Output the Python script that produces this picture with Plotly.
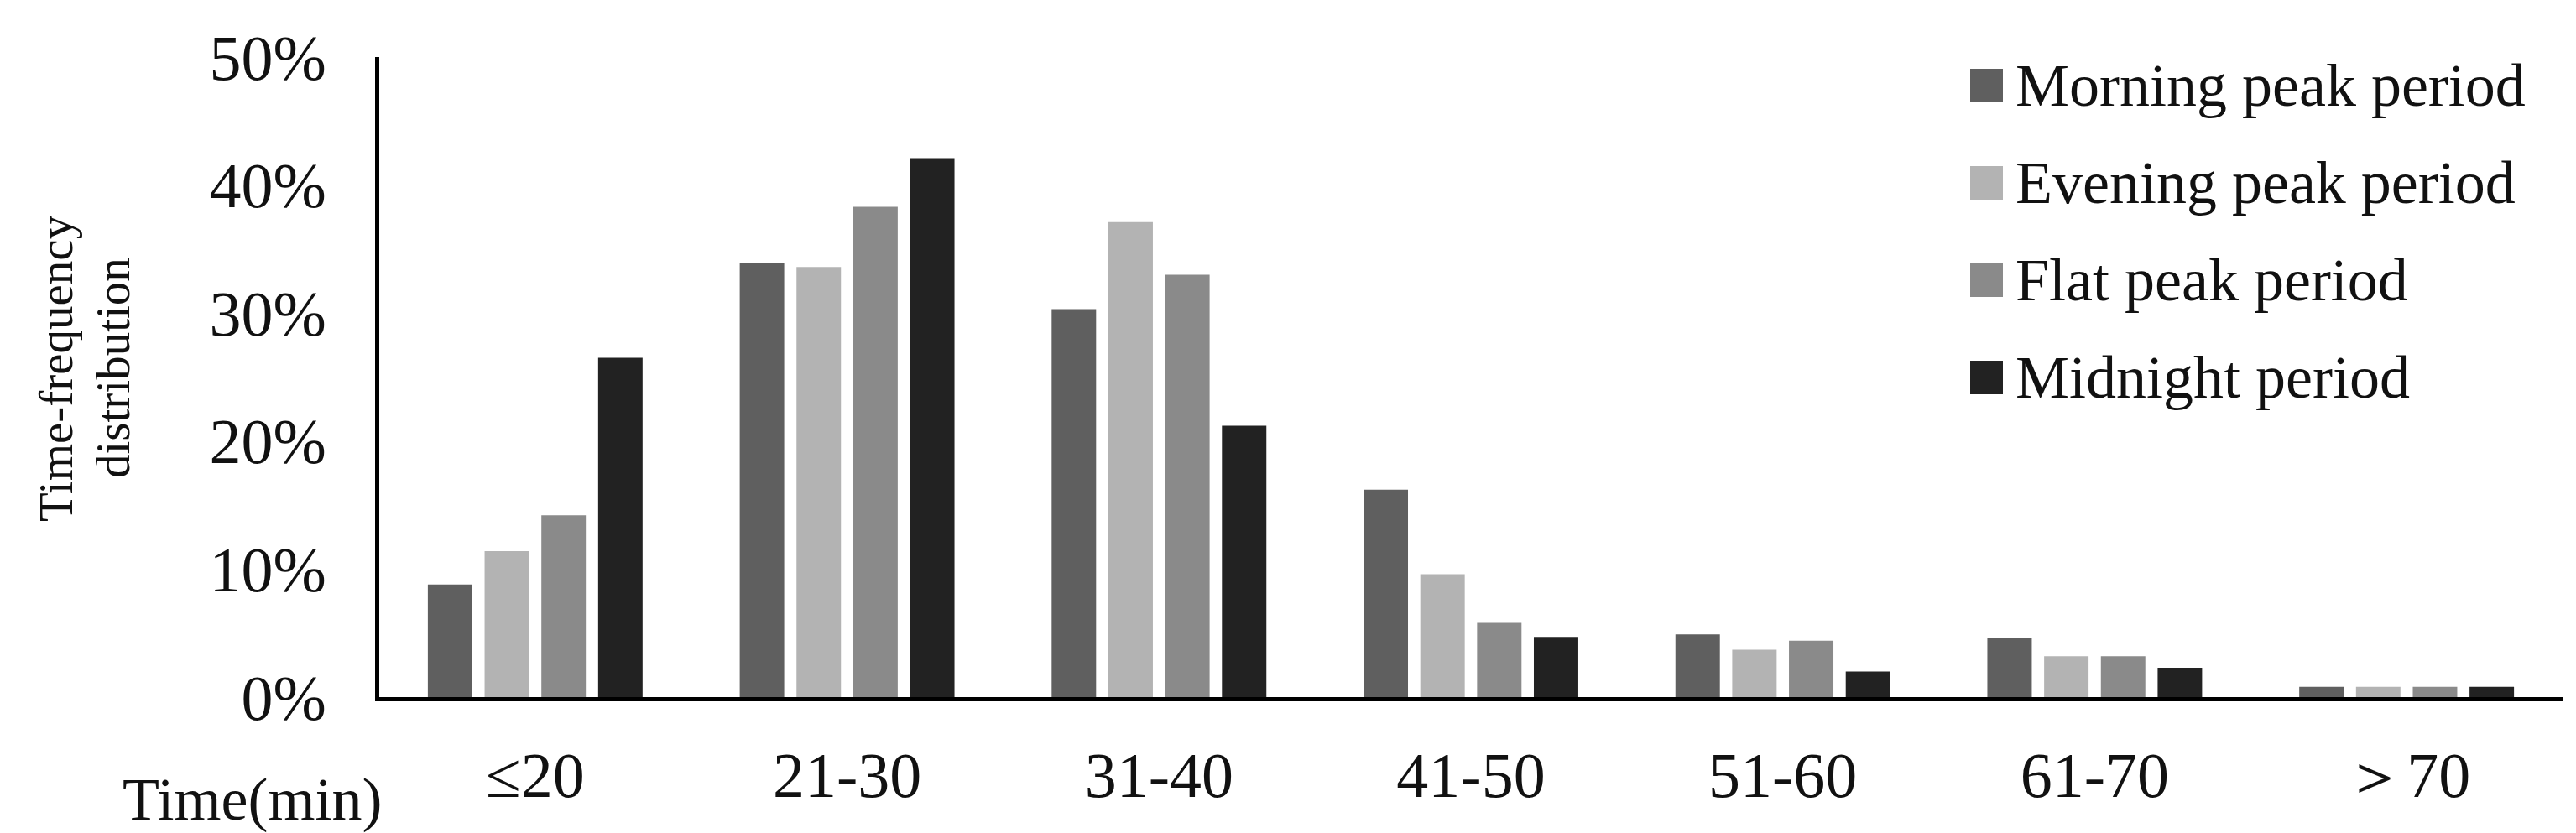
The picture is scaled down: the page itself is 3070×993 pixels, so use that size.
"""Time-frequency distribution of trip durations by period."""

import plotly.graph_objects as go

# ---- data ----
time_bins = ["≤20", "21-30", "31-40", "41-50", "51-60", "61-70", "＞70"]
morning_peak = [8.8, 33.9, 30.3, 16.2, 4.9, 4.6, 0.8]
evening_peak = [11.4, 33.6, 37.1, 9.6, 3.7, 3.2, 0.8]
flat_peak = [14.2, 38.3, 33.0, 5.8, 4.4, 3.2, 0.8]
midnight = [26.5, 42.1, 21.2, 4.7, 2.0, 2.3, 0.8]

series_names = [
    "Morning peak period",
    "Evening peak period",
    "Flat peak period",
    "Midnight period",
]
series_values = [morning_peak, evening_peak, flat_peak, midnight]
series_colors = ["#5f5f5f", "#b3b3b3", "#8a8a8a", "#222222"]

# ---- layout in pixels ----
WIDTH, HEIGHT = 3070, 993
PLOT_LEFT, PLOT_RIGHT = 444, 3046
PLOT_TOP, PLOT_BOTTOM = 60, 823
FONT = "Liberation Serif, Times New Roman, serif"
FONT_SIZE = 72
TICK_SIZE = 76


def px_x(px):
    return (px - PLOT_LEFT) / (PLOT_RIGHT - PLOT_LEFT)


def px_y(py):
    return (PLOT_BOTTOM - py) / (PLOT_BOTTOM - PLOT_TOP)


fig = go.Figure()

for name, values, color in zip(series_names, series_values, series_colors):
    fig.add_trace(
        go.Bar(
            name=name,
            x=time_bins,
            y=values,
            marker=dict(color=color, line=dict(width=0)),
            showlegend=False,
        )
    )

# legend drawn by hand so the swatches can be as large as in the original
for i, (name, color) in enumerate(zip(series_names, series_colors)):
    cy = 94 + i * 116
    fig.add_shape(
        type="rect",
        xref="paper",
        yref="paper",
        x0=px_x(2340),
        x1=px_x(2379),
        y0=px_y(cy + 20),
        y1=px_y(cy - 20),
        fillcolor=color,
        line=dict(width=0),
    )
    fig.add_annotation(
        text=name,
        xref="paper",
        yref="paper",
        x=px_x(2392),
        y=px_y(cy),
        xanchor="left",
        yanchor="middle",
        showarrow=False,
        font=dict(family=FONT, size=FONT_SIZE, color="#111111"),
    )

# y-axis title, two lines
for text, cx in [("Time-frequency", 58), ("distribution", 126)]:
    fig.add_annotation(
        text=text,
        xref="paper",
        yref="paper",
        x=px_x(cx),
        y=px_y(431),
        xanchor="center",
        yanchor="middle",
        textangle=-90,
        showarrow=False,
        font=dict(family=FONT, size=57, color="#111111"),
    )

# x-axis title
fig.add_annotation(
    text="Time(min)",
    xref="paper",
    yref="paper",
    x=px_x(292),
    y=px_y(945),
    xanchor="center",
    yanchor="middle",
    showarrow=False,
    font=dict(family=FONT, size=FONT_SIZE, color="#111111"),
)

fig.update_layout(
    width=WIDTH,
    height=HEIGHT,
    autosize=False,
    margin=dict(l=PLOT_LEFT, r=WIDTH - PLOT_RIGHT, t=PLOT_TOP, b=HEIGHT - PLOT_BOTTOM),
    barmode="group",
    bargap=0.272,
    bargroupgap=0.217,
    plot_bgcolor="white",
    paper_bgcolor="white",
    font=dict(family=FONT, size=FONT_SIZE, color="#111111"),
    xaxis=dict(
        showline=True,
        linecolor="black",
        linewidth=5,
        showgrid=False,
        ticks="",
        ticklabelstandoff=23,
        tickfont=dict(family=FONT, size=TICK_SIZE, color="#111111"),
    ),
    yaxis=dict(
        range=[0, 50],
        dtick=10,
        ticksuffix="%",
        showline=True,
        linecolor="black",
        linewidth=5,
        showgrid=False,
        zeroline=False,
        ticks="",
        ticklabelstandoff=43,
        tickfont=dict(family=FONT, size=TICK_SIZE, color="#111111"),
    ),
)

fig.write_html("out.html")
